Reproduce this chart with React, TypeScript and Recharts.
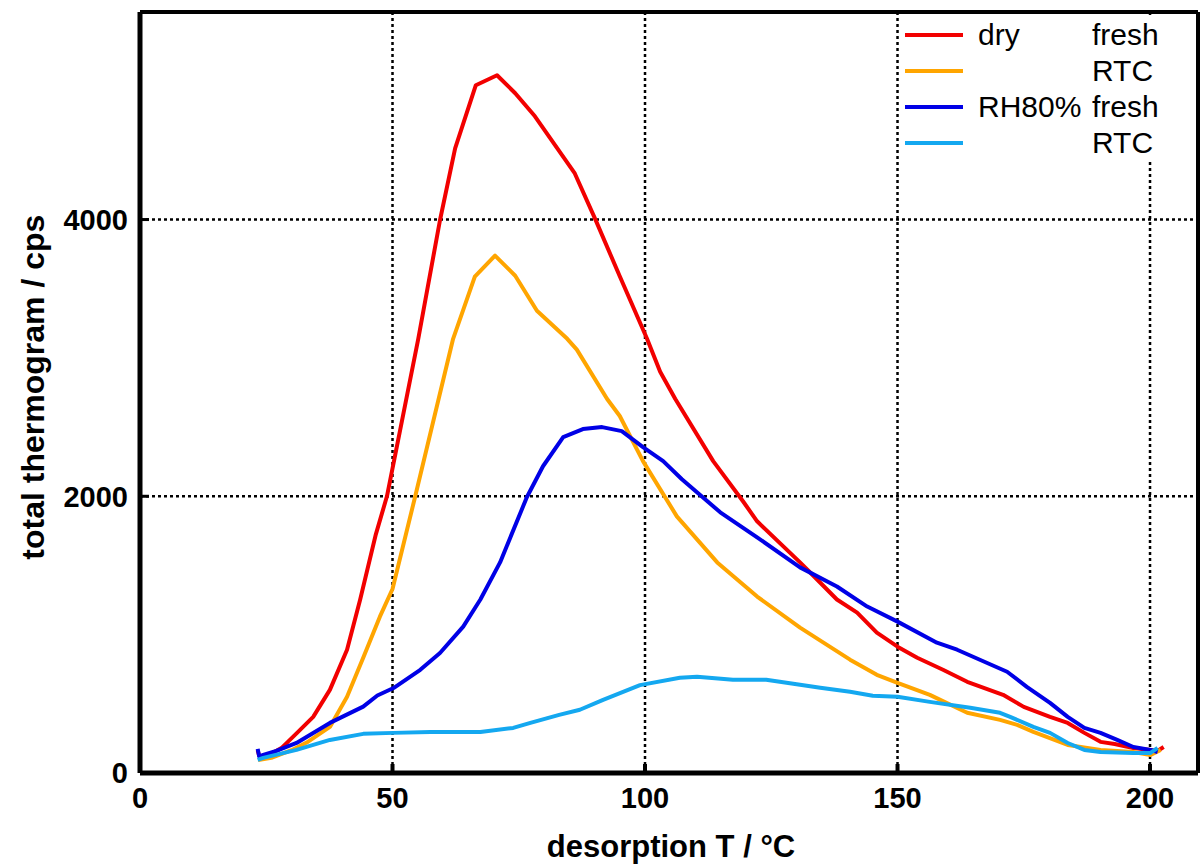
import React from 'react';
import { LineChart, Line, XAxis, YAxis, CartesianGrid, Legend } from 'recharts';

const FONT = '"Liberation Sans", Arial, Helvetica, sans-serif';

const xTicks = [0, 50, 100, 150, 200];
const yTicks = [0, 2000, 4000];
const xDomain: [number, number] = [0, 209.5];
const yDomain: [number, number] = [0, 5500];
const xLabel = 'desorption T / °C';
const yLabel = 'total thermogram / cps';

const legendGroup = ['dry', '', 'RH80%', ''];
const legendState = ['fresh', 'RTC', 'fresh', 'RTC'];
const seriesNames = ['dry fresh', 'dry RTC', 'RH80% fresh', 'RH80% RTC'];
const seriesColors = ['#f20000', '#ffa500', '#0000e6', '#14a8f0'];

const dryFresh: [number, number][] = [
  [23.3, 165], [23.6, 125], [25, 120], [28, 180], [31.1, 290], [34.3, 406], [37.6, 601],
  [41, 891], [43.6, 1254], [46.7, 1725], [48.9, 2000], [55.1, 3138], [59.4, 3995],
  [62.4, 4514], [66.5, 4971], [70.7, 5043], [74.3, 4913], [78.2, 4746], [86.1, 4333],
  [90.1, 4007], [95, 3590], [100.4, 3138], [103, 2900], [106, 2703], [113.5, 2254],
  [119.4, 1964], [122.2, 1819], [130.7, 1522], [132.7, 1449], [138, 1254], [142, 1159],
  [145.9, 1014], [150, 913], [153.9, 833], [159, 746], [163.8, 659], [170.9, 565],
  [175, 478], [180.2, 406], [183.7, 362], [187, 290], [190.2, 225], [193, 210],
  [196.7, 181], [200.1, 167], [201.5, 160], [202.7, 188],
];

const dryRTC: [number, number][] = [
  [23.4, 94], [26, 110], [30, 165], [33, 220], [37.6, 333], [41, 551], [44.2, 833],
  [47.5, 1130], [50, 1330], [54.5, 2000], [62, 3138], [66.3, 3587], [70.3, 3739],
  [74.3, 3594], [78.6, 3341], [84.6, 3138], [86.5, 3060], [92.5, 2703], [95, 2580],
  [99.6, 2254], [106.3, 1855], [114.3, 1522], [122.2, 1275], [130.7, 1051],
  [140.6, 819], [145.9, 710], [150, 652], [156.4, 565], [163.8, 435], [170.3, 384],
  [173.7, 348], [176.9, 297], [183.7, 203], [190.2, 167], [196.7, 152], [200.1, 130],
  [202.1, 167],
];

const wetFresh: [number, number][] = [
  [23.3, 175], [23.6, 120], [24.4, 130], [27, 160], [31, 217], [37.6, 362], [44.2, 480],
  [47, 560], [50.2, 614], [55.5, 746], [59.4, 867], [64, 1058], [67.4, 1254],
  [71.3, 1522], [76.6, 1993], [79.8, 2217], [83.8, 2428], [87.7, 2486], [91.5, 2500],
  [95.4, 2471], [99.6, 2355], [103.6, 2254], [107.3, 2123], [114.9, 1884],
  [122.2, 1703], [130.7, 1486], [138, 1348], [144, 1203], [150, 1094], [157.8, 942],
  [161.8, 891], [171.7, 732], [175.6, 623], [180.2, 507], [183.7, 406], [187, 326],
  [190.2, 290], [193.5, 239], [196.7, 188], [200.1, 167], [201.5, 152],
];

const wetRTC: [number, number][] = [
  [23.3, 94], [24.4, 109], [31, 167], [37.6, 239], [44.2, 283], [50.2, 290],
  [57.5, 297], [67.4, 297], [73.9, 326], [77.3, 362], [83, 420], [87.1, 457],
  [91.7, 529], [99, 635], [106.9, 688], [110.3, 696], [117.4, 674], [124, 674],
  [130.7, 638], [134.7, 616], [140.6, 587], [145.1, 558], [150, 551], [156.4, 514],
  [164.4, 471], [170.3, 435], [172.3, 406], [176.9, 333], [180.2, 290], [183.7, 217],
  [187, 167], [190.2, 152], [196.7, 145], [200.1, 145], [201.5, 181],
];

const seriesData = [dryFresh, dryRTC, wetFresh, wetRTC];
const toPts = (a: [number, number][]) => a.map(([t, v]) => ({ t, v }));

const XTick = (props: any) => {
  const { x, y, payload } = props;
  return (
    <g>
      {payload.value !== 0 && (
        <line x1={x} x2={x} y1={y} y2={y - 9} stroke="#000" strokeWidth={4} />
      )}
      <text x={x} y={y + 35} textAnchor="middle" fontFamily={FONT} fontWeight="bold" fontSize={29} fill="#000">
        {payload.value}
      </text>
    </g>
  );
};

const YTick = (props: any) => {
  const { x, y, payload } = props;
  return (
    <g>
      {payload.value !== 0 && (
        <line x1={x} x2={x + 9} y1={y} y2={y} stroke="#000" strokeWidth={3} />
      )}
      <text x={x - 12} y={y} dy="0.36em" textAnchor="end" fontFamily={FONT} fontWeight="bold" fontSize={29} fill="#000">
        {payload.value}
      </text>
    </g>
  );
};

const XLabel = (props: any) => {
  const vb = props.viewBox || { x: 140, y: 773, width: 1057, height: 91 };
  return (
    <text x={vb.x + vb.width / 2 + 2} y={vb.y + 84} textAnchor="middle" fontFamily={FONT} fontWeight="bold" fontSize={31} fill="#000">
      {xLabel}
    </text>
  );
};

const YLabel = (props: any) => {
  const vb = props.viewBox || { x: 0, y: 13, width: 140, height: 760 };
  const cx = 44;
  const cy = vb.y + vb.height * 0.493;
  return (
    <text x={cx} y={cy} transform={`rotate(-90, ${cx}, ${cy})`} textAnchor="middle" fontFamily={FONT} fontWeight="bold" fontSize={32} fill="#000">
      {yLabel}
    </text>
  );
};

const LegendBox = (props: any) => {
  const payload: any[] = props.payload || [];
  return (
    <div style={{ position: 'absolute', left: 901, top: 15, width: 294, height: 145, background: '#fff', fontFamily: FONT, fontSize: 30, color: '#000' }}>
      {seriesNames.map((name, i) => {
        const entry = payload.find((p) => p.value === name);
        const color = entry ? entry.color : seriesColors[i];
        const cy = 20 + i * 36;
        return (
          <React.Fragment key={name}>
            <div style={{ position: 'absolute', left: 4, top: cy - 2, width: 58, height: 4, background: color }} />
            <span style={{ position: 'absolute', left: 77, top: cy - 18, lineHeight: '36px', whiteSpace: 'nowrap' }}>{legendGroup[i]}</span>
            <span style={{ position: 'absolute', left: 191, top: cy - 18, lineHeight: '36px', whiteSpace: 'nowrap' }}>{legendState[i]}</span>
          </React.Fragment>
        );
      })}
    </div>
  );
};

export default function App() {
  return (
    <div style={{ position: 'absolute', left: 0, top: 0, width: 1200, height: 864, background: '#fff' }}>
      <LineChart width={1200} height={864} margin={{ top: 12, right: 2, left: 0, bottom: 0 }}>
        <CartesianGrid stroke="#000" strokeWidth={2.5} strokeDasharray="3 3" />
        <XAxis
          type="number"
          dataKey="t"
          domain={xDomain}
          ticks={xTicks}
          allowDataOverflow
          height={91}
          axisLine={{ stroke: '#000', strokeWidth: 5 }}
          tickLine={false}
          tickSize={0}
          tickMargin={0}
          tick={<XTick />}
          interval={0}
          label={<XLabel />}
        />
        <XAxis
          xAxisId="top"
          orientation="top"
          type="number"
          dataKey="t"
          domain={xDomain}
          ticks={xTicks.filter((t) => t !== 0)}
          allowDataOverflow
          height={1}
          mirror
          tick={false}
          tickSize={9}
          interval={0}
          tickLine={{ stroke: '#000', strokeWidth: 4 }}
          axisLine={{ stroke: '#000', strokeWidth: 4 }}
        />
        <YAxis
          type="number"
          domain={yDomain}
          ticks={yTicks}
          allowDataOverflow
          width={140}
          axisLine={{ stroke: '#000', strokeWidth: 5 }}
          tickLine={false}
          tickSize={0}
          tickMargin={0}
          tick={<YTick />}
          interval={0}
          label={<YLabel />}
        />
        <YAxis
          yAxisId="right"
          orientation="right"
          type="number"
          domain={yDomain}
          ticks={yTicks.filter((t) => t !== 0)}
          allowDataOverflow
          width={1}
          mirror
          tick={false}
          tickSize={9}
          interval={0}
          tickLine={{ stroke: '#000', strokeWidth: 3 }}
          axisLine={{ stroke: '#000', strokeWidth: 4 }}
        />
        <Legend
          layout="vertical"
          align="center"
          verticalAlign="middle"
          content={<LegendBox />}
          wrapperStyle={{ position: 'absolute', left: 0, top: 0, width: 0, height: 0 }}
        />
        {seriesData.map((d, i) => (
          <Line
            key={seriesNames[i]}
            name={seriesNames[i]}
            data={toPts(d)}
            dataKey="v"
            type="linear"
            stroke={seriesColors[i]}
            strokeWidth={4}
            strokeLinejoin="round"
            dot={false}
            activeDot={false}
            isAnimationActive={false}
          />
        ))}
      </LineChart>
    </div>
  );
}
